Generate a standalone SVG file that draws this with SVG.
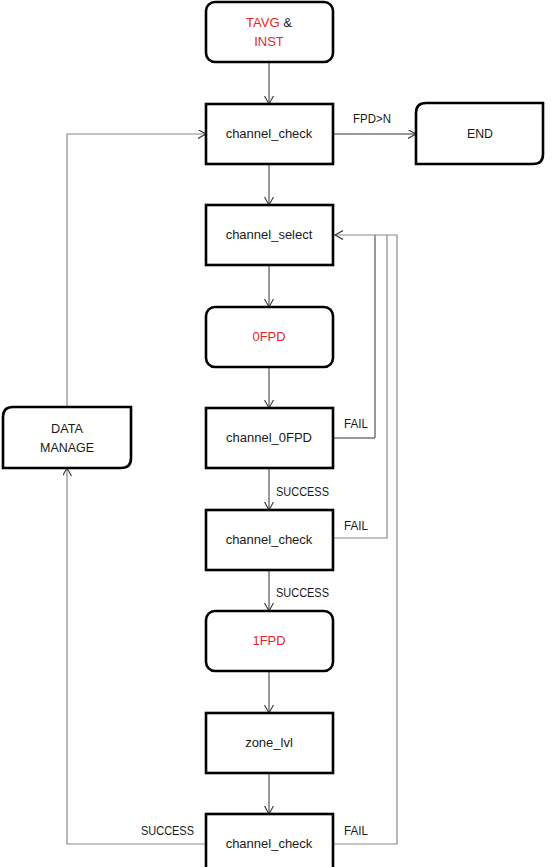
<svg xmlns="http://www.w3.org/2000/svg" width="552" height="867" viewBox="0 0 552 867">
<style>
text{font-family:"Liberation Sans",Arial,sans-serif;font-size:13px;fill:#1a1a1a}
.c{text-anchor:middle}
.red{fill:#e8232a}
.node{fill:#fff;stroke:#000;stroke-width:2.6}
.ln{fill:none;stroke:#333;stroke-width:1}
.gl{fill:none;stroke:#8a8a8a;stroke-width:1.2}
</style>
<defs>
<marker id="ah" markerWidth="10" markerHeight="10" refX="8" refY="4.5" orient="auto" markerUnits="userSpaceOnUse">
<path d="M0,0 L8,4.5 L0,9" fill="none" stroke="#333" stroke-width="1.1"/>
</marker>
</defs>
<g id="connectors">
<line class="ln" x1="269" y1="62" x2="269" y2="104" marker-end="url(#ah)"/>
<line class="ln" x1="333" y1="134" x2="416" y2="134" marker-end="url(#ah)"/>
<line class="ln" x1="269" y1="164" x2="269" y2="205" marker-end="url(#ah)"/>
<line class="ln" x1="269" y1="265" x2="269" y2="307" marker-end="url(#ah)"/>
<line class="ln" x1="269" y1="367" x2="269" y2="408" marker-end="url(#ah)"/>
<line class="ln" x1="269" y1="468" x2="269" y2="510" marker-end="url(#ah)"/>
<line class="ln" x1="269" y1="570" x2="269" y2="611" marker-end="url(#ah)"/>
<line class="ln" x1="269" y1="671" x2="269" y2="713" marker-end="url(#ah)"/>
<line class="ln" x1="269" y1="773" x2="269" y2="814" marker-end="url(#ah)"/>
<polyline class="ln" points="333,438 375,438 375,235"/>
<polyline class="gl" points="333,538 387,538 387,235"/>
<polyline class="gl" points="333,844 397,844 397,235 335,235" marker-end="url(#ah)"/>
<polyline class="gl" points="206,844 67,844 67,468" marker-end="url(#ah)"/>
<polyline class="gl" points="67,407 67,134 206,134" marker-end="url(#ah)"/>
<text x="353" y="123" textLength="38" lengthAdjust="spacingAndGlyphs">FPD&gt;N</text>
<text x="344" y="428" textLength="24" lengthAdjust="spacingAndGlyphs">FAIL</text>
<text x="276" y="496" textLength="53" lengthAdjust="spacingAndGlyphs">SUCCESS</text>
<text x="344" y="530" textLength="24" lengthAdjust="spacingAndGlyphs">FAIL</text>
<text x="276" y="597" textLength="53" lengthAdjust="spacingAndGlyphs">SUCCESS</text>
<text x="141" y="835" textLength="53" lengthAdjust="spacingAndGlyphs">SUCCESS</text>
<text x="344" y="835" textLength="24" lengthAdjust="spacingAndGlyphs">FAIL</text>
</g>
<g id="n_start">
<rect class="node" x="206" y="2" width="127" height="60" rx="9"/>
<text x="269" y="27" class="c"><tspan class="red">TAVG</tspan> &amp;</text>
<text x="269" y="46" class="c red">INST</text>
</g>
<g id="n_check1">
<rect class="node" x="206" y="104" width="127" height="60"/>
<text x="269" y="138" class="c">channel_check</text>
</g>
<g id="n_end">
<path class="node" d="M426,103 H543 V154 Q543,164 533,164 H416 V113 Q416,103 426,103 Z"/>
<text x="480" y="138" class="c" textLength="26" lengthAdjust="spacingAndGlyphs">END</text>
</g>
<g id="n_select">
<rect class="node" x="206" y="205" width="127" height="60"/>
<text x="269" y="239" class="c">channel_select</text>
</g>
<g id="n_0fpd">
<rect class="node" x="206" y="307" width="127" height="60" rx="9"/>
<text x="269" y="341" class="c red" textLength="33" lengthAdjust="spacingAndGlyphs">0FPD</text>
</g>
<g id="n_c0fpd">
<rect class="node" x="206" y="408" width="127" height="60"/>
<text x="269" y="442" class="c">channel_0FPD</text>
</g>
<g id="n_check2">
<rect class="node" x="206" y="510" width="127" height="60"/>
<text x="269" y="544" class="c">channel_check</text>
</g>
<g id="n_1fpd">
<rect class="node" x="206" y="611" width="127" height="60" rx="9"/>
<text x="269" y="645" class="c red" textLength="33" lengthAdjust="spacingAndGlyphs">1FPD</text>
</g>
<g id="n_zone">
<rect class="node" x="206" y="713" width="127" height="60"/>
<text x="269" y="747" class="c">zone_lvl</text>
</g>
<g id="n_check3">
<rect class="node" x="206" y="814" width="127" height="62"/>
<text x="269" y="848" class="c">channel_check</text>
</g>
<g id="n_data">
<path class="node" d="M13,407 H131 V458 Q131,468 121,468 H3 V417 Q3,407 13,407 Z"/>
<text x="67" y="433" class="c" textLength="32" lengthAdjust="spacingAndGlyphs">DATA</text>
<text x="67" y="452" class="c" textLength="54" lengthAdjust="spacingAndGlyphs">MANAGE</text>
</g>
</svg>
